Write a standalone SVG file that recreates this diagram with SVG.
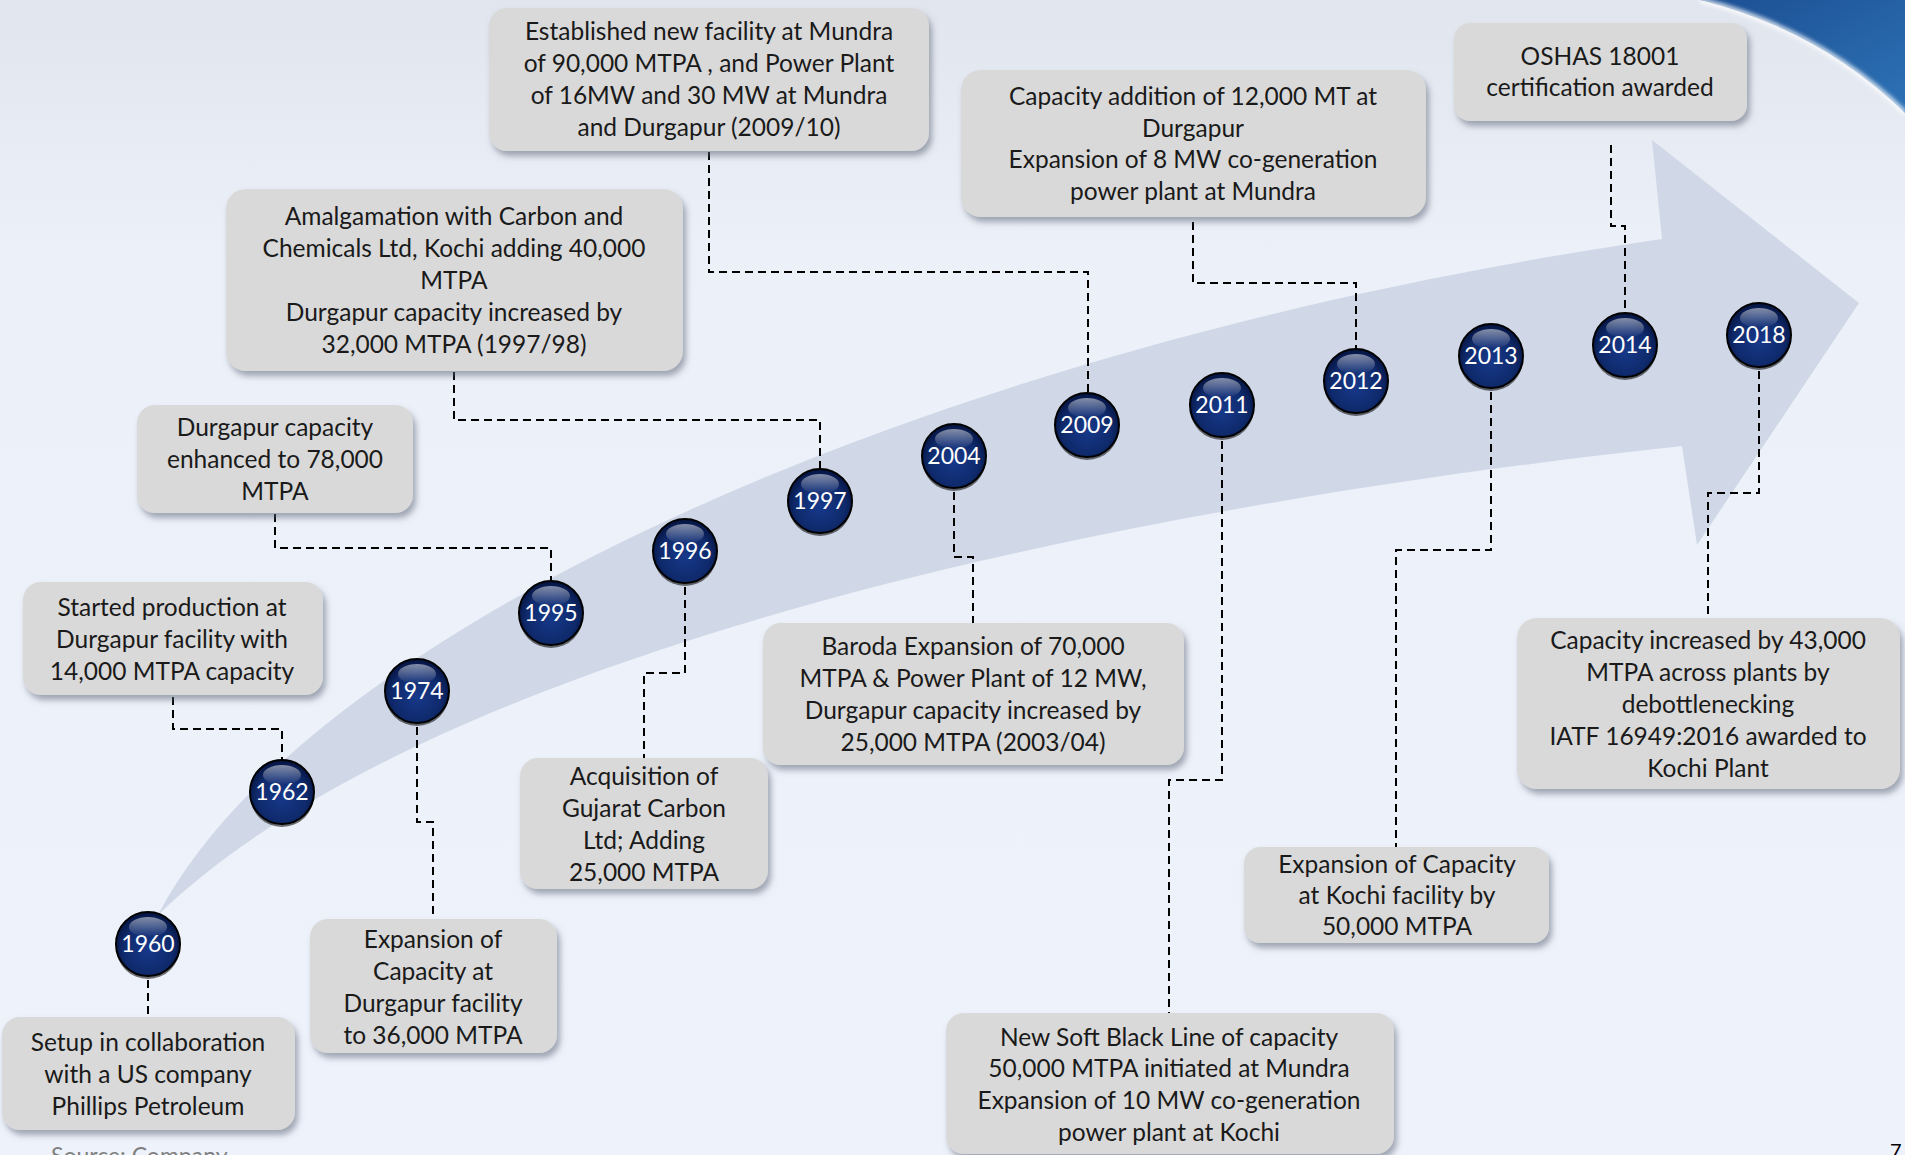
<svg xmlns="http://www.w3.org/2000/svg" width="1905" height="1155" viewBox="0 0 1905 1155">
<style>
.box rect{fill:#d9d9d9;filter:url(#sh)}
.box text{font-family:Lato,"Liberation Sans",sans-serif;font-size:24.5px;fill:#1a1a1a;text-anchor:middle}
.yr text{font-family:Lato,"Liberation Sans",sans-serif;font-size:23px;fill:#fff;text-anchor:middle}
.ball{fill:url(#ball);stroke:#000;stroke-width:2}
.conn path{fill:none;stroke:#000;stroke-width:2;stroke-dasharray:8 5}
</style>
<defs>
<linearGradient id="bg" x1="0" y1="0" x2="0" y2="1"><stop offset="0" stop-color="#e1e5ee"/><stop offset="0.22" stop-color="#ecf0f8"/><stop offset="1" stop-color="#eef2fb"/></linearGradient>
<radialGradient id="ball" cx="0.5" cy="0.58" r="0.55"><stop offset="0" stop-color="#17398a"/><stop offset="0.7" stop-color="#0f2a6c"/><stop offset="1" stop-color="#061645"/></radialGradient>
<linearGradient id="gloss" x1="0" y1="0" x2="0" y2="1"><stop offset="0" stop-color="#fff" stop-opacity="0.5"/><stop offset="1" stop-color="#fff" stop-opacity="0"/></linearGradient>
<linearGradient id="blue" x1="0" y1="0" x2="1" y2="1"><stop offset="0" stop-color="#1c4f93"/><stop offset="1" stop-color="#2d72b5"/></linearGradient>
<filter id="sh" x="-10%" y="-10%" width="125%" height="135%"><feDropShadow dx="3" dy="5" stdDeviation="3" flood-color="#5d6678" flood-opacity="0.55"/></filter>
<filter id="blur"><feGaussianBlur stdDeviation="2"/></filter>
</defs>
<rect width="1905" height="1155" fill="url(#bg)"/>
<path d="M1700,0 Q1820,30 1905,113 L1905,0 Z" fill="url(#blue)"/>
<path d="M1700,0 Q1820,30 1905,113" fill="none" stroke="#fff" stroke-width="5" opacity="0.85" filter="url(#blur)"/>
<path id="arrow" d="M158,915 C300,640 900,350 1662,239 L1652,140 L1859,303 L1697,545 L1682,446 C1000,520 400,680 158,915 Z" fill="#d0d8e7"/>

<g class="conn">
<path d="M148,980 V1017"/>
<path d="M173,697 V729 H282 V759"/>
<path d="M417,727 V822 H433 V919"/>
<path d="M275,514 V548 H551 V580"/>
<path d="M685,587 V673 H644 V758"/>
<path d="M454,372 V420 H820 V468"/>
<path d="M954,492 V557 H973 V623"/>
<path d="M709,152 V272 H1088 V392"/>
<path d="M1222,441 V780 H1169 V1013"/>
<path d="M1193,222 V283 H1356 V348"/>
<path d="M1491,392 V550 H1396 V847"/>
<path d="M1611,145 V226 H1625 V312"/>
<path d="M1759,371 V493 H1708 V618"/>
</g>

<g id="y1960" class="yr" transform="translate(148,944)"><circle cy="3" r="32" fill="#000" opacity="0.55"/><circle r="32" class="ball"/><ellipse cy="-17" rx="19" ry="10" fill="url(#gloss)"/><text y="8">1960</text></g>
<g id="y1962" class="yr" transform="translate(282,792)"><circle cy="3" r="32" fill="#000" opacity="0.55"/><circle r="32" class="ball"/><ellipse cy="-17" rx="19" ry="10" fill="url(#gloss)"/><text y="8">1962</text></g>
<g id="y1974" class="yr" transform="translate(417,691)"><circle cy="3" r="32" fill="#000" opacity="0.55"/><circle r="32" class="ball"/><ellipse cy="-17" rx="19" ry="10" fill="url(#gloss)"/><text y="8">1974</text></g>
<g id="y1995" class="yr" transform="translate(551,613)"><circle cy="3" r="32" fill="#000" opacity="0.55"/><circle r="32" class="ball"/><ellipse cy="-17" rx="19" ry="10" fill="url(#gloss)"/><text y="8">1995</text></g>
<g id="y1996" class="yr" transform="translate(685,551)"><circle cy="3" r="32" fill="#000" opacity="0.55"/><circle r="32" class="ball"/><ellipse cy="-17" rx="19" ry="10" fill="url(#gloss)"/><text y="8">1996</text></g>
<g id="y1997" class="yr" transform="translate(820,501)"><circle cy="3" r="32" fill="#000" opacity="0.55"/><circle r="32" class="ball"/><ellipse cy="-17" rx="19" ry="10" fill="url(#gloss)"/><text y="8">1997</text></g>
<g id="y2004" class="yr" transform="translate(954,456)"><circle cy="3" r="32" fill="#000" opacity="0.55"/><circle r="32" class="ball"/><ellipse cy="-17" rx="19" ry="10" fill="url(#gloss)"/><text y="8">2004</text></g>
<g id="y2009" class="yr" transform="translate(1087,425)"><circle cy="3" r="32" fill="#000" opacity="0.55"/><circle r="32" class="ball"/><ellipse cy="-17" rx="19" ry="10" fill="url(#gloss)"/><text y="8">2009</text></g>
<g id="y2011" class="yr" transform="translate(1222,405)"><circle cy="3" r="32" fill="#000" opacity="0.55"/><circle r="32" class="ball"/><ellipse cy="-17" rx="19" ry="10" fill="url(#gloss)"/><text y="8">2011</text></g>
<g id="y2012" class="yr" transform="translate(1356,381)"><circle cy="3" r="32" fill="#000" opacity="0.55"/><circle r="32" class="ball"/><ellipse cy="-17" rx="19" ry="10" fill="url(#gloss)"/><text y="8">2012</text></g>
<g id="y2013" class="yr" transform="translate(1491,356)"><circle cy="3" r="32" fill="#000" opacity="0.55"/><circle r="32" class="ball"/><ellipse cy="-17" rx="19" ry="10" fill="url(#gloss)"/><text y="8">2013</text></g>
<g id="y2014" class="yr" transform="translate(1625,345)"><circle cy="3" r="32" fill="#000" opacity="0.55"/><circle r="32" class="ball"/><ellipse cy="-17" rx="19" ry="10" fill="url(#gloss)"/><text y="8">2014</text></g>
<g id="y2018" class="yr" transform="translate(1759,335)"><circle cy="3" r="32" fill="#000" opacity="0.55"/><circle r="32" class="ball"/><ellipse cy="-17" rx="19" ry="10" fill="url(#gloss)"/><text y="8">2018</text></g>

<g id="b1960" class="box"><rect x="2" y="1017" width="293" height="113" rx="18"/><text x="148"><tspan x="148" y="1051">Setup in collaboration</tspan><tspan x="148" y="1083">with a US company</tspan><tspan x="148" y="1115">Phillips Petroleum</tspan></text></g>
<g id="b1962" class="box"><rect x="23" y="582" width="300" height="113" rx="18"/><text><tspan x="172" y="616">Started production at</tspan><tspan x="172" y="648">Durgapur facility with</tspan><tspan x="172" y="680">14,000 MTPA capacity</tspan></text></g>
<g id="b1974" class="box"><rect x="310" y="919" width="247" height="134" rx="18"/><text><tspan x="433" y="948">Expansion of</tspan><tspan x="433" y="980">Capacity at</tspan><tspan x="433" y="1012">Durgapur facility</tspan><tspan x="433" y="1044">to 36,000 MTPA</tspan></text></g>
<g id="b1995" class="box"><rect x="137" y="405" width="276" height="108" rx="18"/><text><tspan x="275" y="436">Durgapur capacity</tspan><tspan x="275" y="468">enhanced to 78,000</tspan><tspan x="275" y="500">MTPA</tspan></text></g>
<g id="b1996" class="box"><rect x="520" y="758" width="248" height="131" rx="18"/><text><tspan x="644" y="785">Acquisition of</tspan><tspan x="644" y="817">Gujarat Carbon</tspan><tspan x="644" y="849">Ltd; Adding</tspan><tspan x="644" y="881">25,000 MTPA</tspan></text></g>
<g id="b1997" class="box"><rect x="226" y="189" width="457" height="182" rx="20"/><text><tspan x="454" y="225">Amalgamation with Carbon and</tspan><tspan x="454" y="257">Chemicals Ltd, Kochi adding 40,000</tspan><tspan x="454" y="289">MTPA</tspan><tspan x="454" y="321">Durgapur capacity increased by</tspan><tspan x="454" y="353">32,000 MTPA (1997/98)</tspan></text></g>
<g id="b2004" class="box"><rect x="763" y="623" width="421" height="142" rx="18"/><text><tspan x="973" y="655">Baroda Expansion of 70,000</tspan><tspan x="973" y="687">MTPA &amp; Power Plant of 12 MW,</tspan><tspan x="973" y="719">Durgapur capacity increased by</tspan><tspan x="973" y="751">25,000 MTPA (2003/04)</tspan></text></g>
<g id="b2009" class="box"><rect x="489" y="8" width="440" height="143" rx="18"/><text><tspan x="709" y="40">Established new facility at Mundra</tspan><tspan x="709" y="72">of 90,000 MTPA , and Power Plant</tspan><tspan x="709" y="104">of 16MW and 30 MW at Mundra</tspan><tspan x="709" y="136">and Durgapur (2009/10)</tspan></text></g>
<g id="b2011" class="box"><rect x="946" y="1013" width="448" height="141" rx="18"/><text><tspan x="1169" y="1046">New Soft Black Line of capacity</tspan><tspan x="1169" y="1077">50,000 MTPA initiated at Mundra</tspan><tspan x="1169" y="1109">Expansion of 10 MW co-generation</tspan><tspan x="1169" y="1141">power plant at Kochi</tspan></text></g>
<g id="b2012" class="box"><rect x="961" y="70" width="465" height="147" rx="20"/><text><tspan x="1193" y="105">Capacity addition of 12,000 MT at</tspan><tspan x="1193" y="137">Durgapur</tspan><tspan x="1193" y="168">Expansion of 8 MW co-generation</tspan><tspan x="1193" y="200">power plant at Mundra</tspan></text></g>
<g id="b2013" class="box"><rect x="1244" y="847" width="305" height="96" rx="16"/><text><tspan x="1397" y="873">Expansion of Capacity</tspan><tspan x="1397" y="904">at Kochi facility by</tspan><tspan x="1397" y="935">50,000 MTPA</tspan></text></g>
<g id="b2014" class="box"><rect x="1454" y="23" width="293" height="98" rx="16"/><text><tspan x="1600" y="65">OSHAS 18001</tspan><tspan x="1600" y="96">certification awarded</tspan></text></g>
<g id="b2018" class="box"><rect x="1517" y="618" width="383" height="171" rx="20"/><text><tspan x="1708" y="649">Capacity increased by 43,000</tspan><tspan x="1708" y="681">MTPA across plants by</tspan><tspan x="1708" y="713">debottlenecking</tspan><tspan x="1708" y="745">IATF 16949:2016 awarded to</tspan><tspan x="1708" y="777">Kochi Plant</tspan></text></g>

<text x="51" y="1164" font-family="Lato,'Liberation Sans',sans-serif" font-size="23" fill="#7f7f7f">Source: Company</text>
<text x="1890" y="1158" font-family="Lato,'Liberation Sans',sans-serif" font-size="20" fill="#000">7</text>
</svg>
